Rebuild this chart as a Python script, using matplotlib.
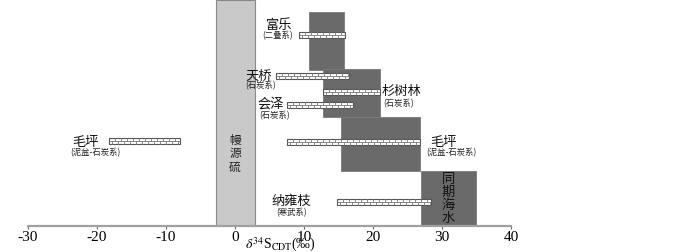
import numpy as np
import matplotlib
matplotlib.use("Agg")
import matplotlib.pyplot as plt
from matplotlib.patches import Rectangle

plt.rcParams['font.family'] = ['Noto Sans CJK SC', 'DejaVu Sans']
plt.rcParams['mathtext.fontset'] = 'stix'

# delta34S ranges (permil)
mantle_range = (-2.8, 2.9)

# dark boxes: range of sulfide delta34S for each group
box_names = ['富乐', '杉树林', '毛坪', '同期海水']
box_lo = [10.7, 12.7, 15.3, 27.0]
box_hi = [15.8, 21.0, 26.8, 34.9]

# hatched bars: range of sulfate/host delta34S
bar_names = ['富乐', '天桥', '杉树林', '会泽', '毛坪', '毛坪', '纳雍枝']
bar_lo = [9.3, 5.9, 12.7, 7.5, -18.3, 7.6, 14.8]
bar_hi = [15.9, 16.5, 21.0, 17.1, -8.0, 26.8, 28.4]

xticks = [-30, -20, -10, 0, 10, 20, 30, 40]

# layout (vertical, in pixel-like units from top)
box_top = [12, 69, 117, 171]
box_bot = [70, 117, 171, 226]
bar_y = [35, 75.5, 92, 105, 141, 142, 202]
bar_h = 6

labels = [('富乐', '(二叠系)', 6.45, 25.3, 6.16, 35.7),
          ('天桥', '(石炭系)', 3.41, 76, 3.77, 86),
          ('会泽', '(石炭系)', 5.14, 104.5, 5.72, 116),
          ('杉树林', '(石炭系)', 24.13, 91.5, 23.7, 104),
          ('毛坪', '(泥盆-石炭系)', -21.6, 142.5, -20.2, 153),
          ('毛坪', '(泥盆-石炭系)', 30.22, 142.5, 31.38, 152.5),
          ('纳雍枝', '(寒武系)', 8.19, 201.5, 8.26, 212.7)]

fig = plt.figure(figsize=(7, 2.52), dpi=100)
ax = fig.add_axes([28 / 700, 26 / 252, 483 / 700, 226 / 252])
ax.set_xlim(-30, 40)
ax.set_ylim(226, 0)

dark = '#6a6a6a'
ax.add_patch(Rectangle((mantle_range[0], 0), mantle_range[1] - mantle_range[0], 226,
                       facecolor='#c9c9c9', edgecolor='#8a8a8a', lw=0.8, zorder=1))
for lo, hi, t, b in zip(box_lo, box_hi, box_top, box_bot):
    ax.add_patch(Rectangle((lo, t), hi - lo, b - t, facecolor=dark,
                           edgecolor='#7a7a7a', lw=0.6, zorder=2))

# brick pattern bars
bw = 6 / 6.9
for lo, hi, y in zip(bar_lo, bar_hi, bar_y):
    ax.add_patch(Rectangle((lo, y - bar_h / 2), hi - lo, bar_h, facecolor='white',
                           edgecolor='#555555', lw=0.8, zorder=3))
    ax.plot([lo, hi], [y, y], color='#777777', lw=0.6, zorder=4)
    for x in np.arange(lo + bw, hi - 0.1, bw):
        ax.plot([x, x], [y - bar_h / 2, y], color='#777777', lw=0.6, zorder=4)
    for x in np.arange(lo + bw / 2, hi - 0.1, bw):
        ax.plot([x, x], [y, y + bar_h / 2], color='#777777', lw=0.6, zorder=4)

for name, period, nx, ny, px, py in labels:
    ax.text(nx, ny, name, ha='center', va='center', fontsize=9.5, color='#111111', zorder=5)
    ax.text(px, py, period, ha='center', va='center', fontsize=6, color='#222222', zorder=5)

for i, ch in enumerate('幔源硫'):
    ax.text(0, 140 + i * 13.5, ch, ha='center', va='center', fontsize=8.5, color='#222222', zorder=5)
for i, ch in enumerate('同期海水'):
    ax.text(30.9, 180 + i * 12.7, ch, ha='center', va='center', fontsize=9.5, color='#111111', zorder=5)

for s in ['top', 'left', 'right']:
    ax.spines[s].set_visible(False)
ax.spines['bottom'].set_color('#a0a0a0')
ax.spines['bottom'].set_linewidth(1.6)
ax.set_yticks([])
ax.set_xticks(xticks)
ax.set_xticklabels([str(v) for v in xticks], fontfamily='Liberation Serif', fontsize=11)
ax.tick_params(axis='x', length=2, width=0.8, color='#666666', pad=1.5)

ax.text(6.6, 248.5, r'$\delta^{34}$S$_{\rm CDT}$(‰)', ha='center', va='baseline',
        fontsize=10, fontfamily='Liberation Serif', clip_on=False)

fig.savefig('out.png', dpi=100)
